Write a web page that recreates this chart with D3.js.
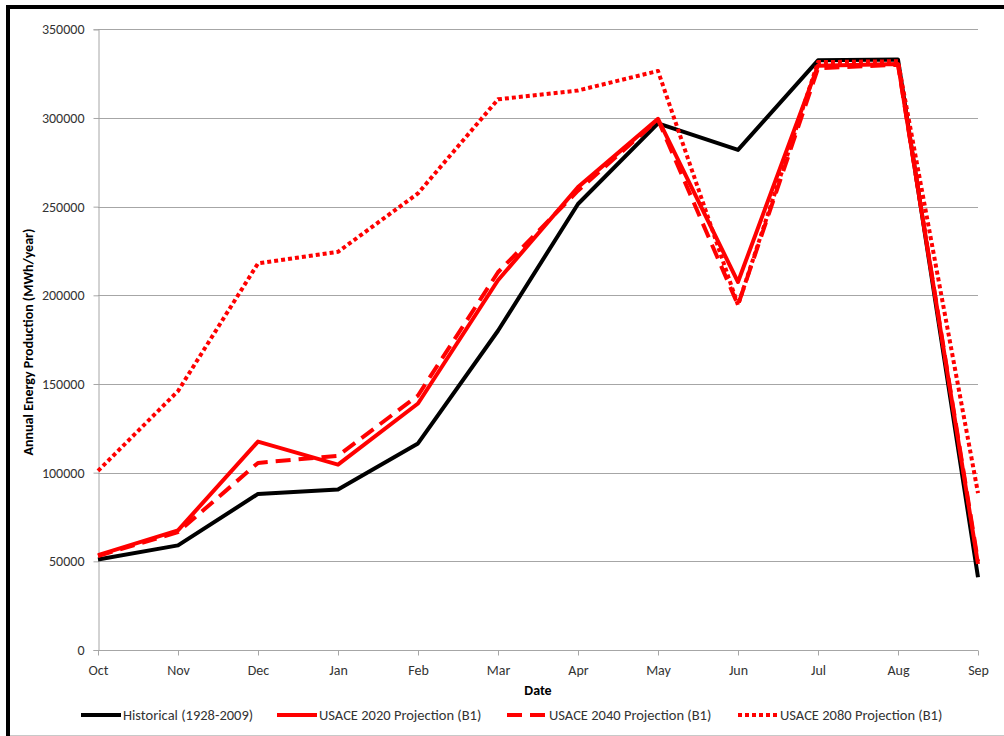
<!DOCTYPE html>
<html>
  <head>
    <meta charset="utf-8">
    <script src="https://d3js.org/d3.v7.min.js"></script>
    <style>
      body { margin: 0; background: #fff; }
      svg text { font-family: Carlito, Calibri, Lato, sans-serif; fill: #000; }
      .axis path, .axis line { stroke: #a6a6a6; }
      .axis text { font-size: 14px; fill: #333; }
      .grid line { stroke: #a6a6a6; stroke-width: 1; }
      .title { font-size: 14px; font-weight: bold; }
      .legend text { font-size: 14.5px; fill: #333; }
    </style>
  </head>
<body>
  <script>
    // months along the x axis
    var months = ["Oct", "Nov", "Dec", "Jan", "Feb", "Mar", "Apr", "May", "Jun", "Jul", "Aug", "Sep"];
    // values (MWh/year)
    var historical = [51000, 59000, 88000, 90500, 116500, 180000, 251500, 297000, 282000, 332500, 333000, 41000];
    var usace2020 = [53500, 67500, 117500, 104500, 139000, 208500, 261000, 299500, 207500, 329500, 330500, 48500];
    var usace2040 = [53000, 66500, 105500, 109500, 143500, 213000, 259000, 299000, 194500, 328000, 330000, 50000];
    var usace2080 = [101000, 146000, 218000, 224500, 257500, 310500, 315500, 326500, 194500, 331500, 332000, 88500];
    var yTicks = [0, 50000, 100000, 150000, 200000, 250000, 300000, 350000];

    var series = [
      { name: "Historical (1928-2009)", values: historical, color: "#000", dash: null },
      { name: "USACE 2020 Projection (B1)", values: usace2020, color: "#ff0000", dash: null },
      { name: "USACE 2040 Projection (B1)", values: usace2040, color: "#ff0000", dash: "15,8" },
      { name: "USACE 2080 Projection (B1)", values: usace2080, color: "#ff0000", dash: "4,3" }
    ];

    function draw() {
      var W = 1004, H = 736;
      var plotLeft = 98, plotRight = 978, plotTop = 29.3, plotBottom = 650;

      var svg = d3.select("body").append("svg")
        .attr("width", W)
        .attr("height", H);

      // frame
      svg.append("line").attr("x1", 6).attr("x2", W).attr("y1", 7).attr("y2", 7)
        .attr("stroke", "#000").attr("stroke-width", 4);
      svg.append("line").attr("x1", 8).attr("x2", 8).attr("y1", 5).attr("y2", H)
        .attr("stroke", "#000").attr("stroke-width", 4);
      svg.append("line").attr("x1", 10).attr("x2", W).attr("y1", 735.5).attr("y2", 735.5)
        .attr("stroke", "#c8c8c8").attr("stroke-width", 1);

      var x = d3.scalePoint().domain(months).range([plotLeft, plotRight]);
      var y = d3.scaleLinear().domain([0, 350000]).range([plotBottom, plotTop]);

      // horizontal gridlines
      svg.append("g").attr("class", "grid")
        .selectAll("line")
        .data(yTicks.filter(function(d) { return d > 0; }))
        .enter().append("line")
        .attr("x1", plotLeft).attr("x2", plotRight)
        .attr("y1", function(d) { return Math.round(y(d)) + 0.5; })
        .attr("y2", function(d) { return Math.round(y(d)) + 0.5; });

      // axes
      var yAxis = svg.append("g").attr("class", "axis")
        .attr("transform", "translate(" + (plotLeft + 0.5) + ",0)")
        .call(d3.axisLeft(y).tickValues(yTicks).tickSize(5).tickPadding(9).tickFormat(d3.format("d")));
      yAxis.select(".domain").attr("stroke", "#bfbfbf");

      var xAxis = svg.append("g").attr("class", "axis")
        .attr("transform", "translate(0," + (plotBottom + 0.5) + ")")
        .call(d3.axisBottom(x).tickSize(5).tickPadding(10));
      xAxis.select(".domain").attr("d", "M" + plotLeft + ",0H" + plotRight);

      // axis titles
      svg.append("text").attr("class", "title")
        .attr("x", 538).attr("y", 695)
        .attr("text-anchor", "middle")
        .text("Date");
      svg.append("text").attr("class", "title")
        .attr("transform", "translate(33,342)rotate(-90)")
        .attr("text-anchor", "middle")
        .text("Annual Energy Production (MWh/year)");

      // lines
      var line = d3.line()
        .x(function(d, i) { return x(months[i]); })
        .y(function(d) { return y(d); });

      svg.append("g").selectAll("path")
        .data(series)
        .enter().append("path")
        .attr("d", function(s) { return line(s.values); })
        .attr("fill", "none")
        .attr("stroke", function(s) { return s.color; })
        .attr("stroke-width", 4)
        .attr("stroke-linejoin", "round")
        .attr("stroke-dasharray", function(s) { return s.dash; });

      // legend
      var legendX = [81, 277, 507, 738];
      var legend = svg.append("g").attr("class", "legend")
        .selectAll("g")
        .data(series)
        .enter().append("g")
        .attr("transform", function(s, i) { return "translate(" + legendX[i] + ",715)"; });
      legend.append("line")
        .attr("x1", 0).attr("x2", 40).attr("y1", 0).attr("y2", 0)
        .attr("stroke", function(s) { return s.color; })
        .attr("stroke-width", 4)
        .attr("stroke-dasharray", function(s) { return s.dash; });
      legend.append("text")
        .attr("x", 42).attr("y", 5)
        .text(function(s) { return s.name; });
    }

    draw();
  </script>
</body>
</html>
